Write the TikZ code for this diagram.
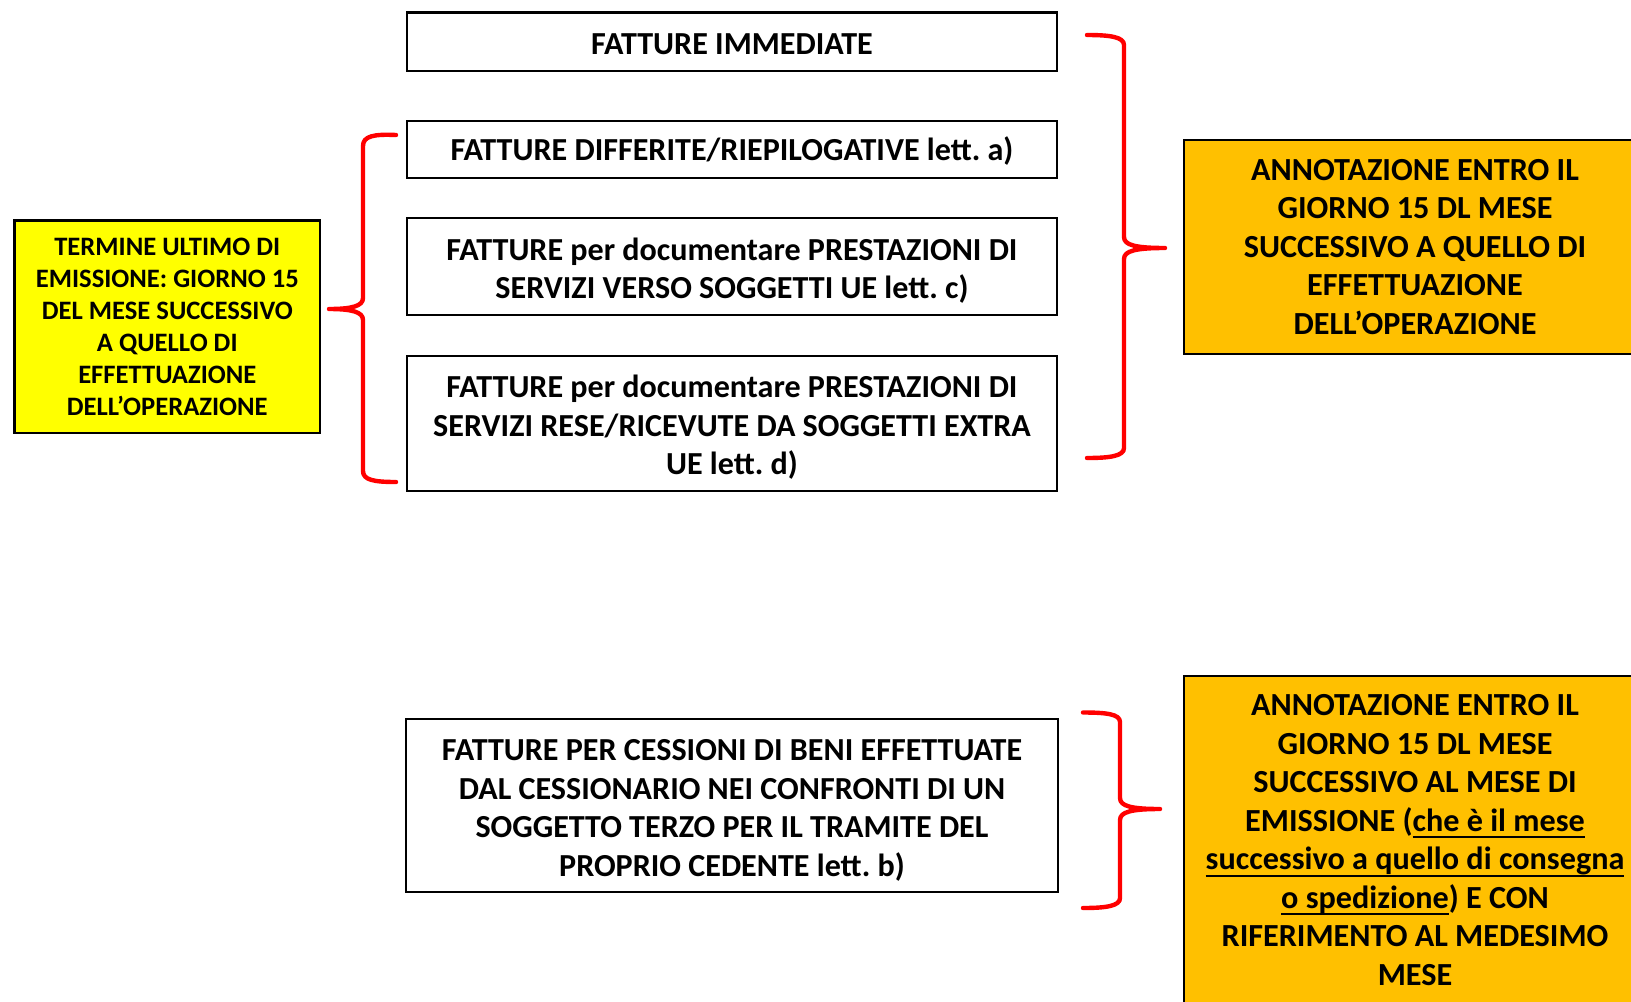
\documentclass[tikz,border=0pt]{standalone}
\usepackage{fontspec}
\setmainfont{Carlito}
\frenchspacing
\newsavebox\myulbox
\newcommand\myuline[1]{\sbox\myulbox{#1}\rlap{\rule[-0.22em]{\wd\myulbox}{0.07em}}\usebox\myulbox}
\newcommand\bxs{\rule{0pt}{0.95em}}
\newcommand\bxsb{\rule{0pt}{0.83em}}
\newcommand\bxe{\rule[-2.5pt]{0pt}{2.5pt}}
\definecolor{ylw}{HTML}{FFFF00}
\definecolor{org}{HTML}{FFC000}
\definecolor{bred}{HTML}{FF0000}
\begin{document}
\begin{tikzpicture}[x=0.5pt,y=-0.5pt,
  box/.style={draw=black,line width=1.3pt,fill=white,inner sep=0pt,align=center,
    font=\fontsize{16.05}{19.25}\selectfont\bfseries,minimum width=325pt},
  ybox/.style={draw=black,line width=1.3pt,fill=ylw,inner sep=0pt,align=center,
    font=\fontsize{13.3}{16}\selectfont\bfseries},
  obox/.style={draw=black,line width=1.3pt,fill=org,inner sep=0pt,align=center,
    font=\fontsize{16.1}{19.25}\selectfont\bfseries,minimum width=231pt},
  brace/.style={draw=bred,line width=2.2pt,line cap=round,line join=round}]
\useasboundingbox (0,0) rectangle (1631,1001);
\clip (0,0) rectangle (1631,1001);

\node[box,minimum height=29.25pt] (b1) at (732,41.75) {\bxs FATTURE IMMEDIATE\bxe};
\node[box,minimum height=28.5pt] (b2) at (732,149.5) {\bxsb FATTURE DIFFERITE/RIEPILOGATIVE lett. a)\bxe};
\node[box,minimum height=48.5pt] (b3) at (732,266.5) {\bxs FATTURE per documentare PRESTAZIONI DI\\SERVIZI VERSO SOGGETTI UE lett. c)\bxe};
\node[box,minimum height=67.5pt] (b4) at (732,423.5) {\bxs FATTURE per documentare PRESTAZIONI DI\\SERVIZI RESE/RICEVUTE DA SOGGETTI EXTRA\\UE lett. d)\bxe};
\node[box,minimum width=326pt,minimum height=86.5pt] (b5) at (732,805.5) {\bxs FATTURE PER CESSIONI DI BENI EFFETTUATE\\DAL CESSIONARIO NEI CONFRONTI DI UN\\SOGGETTO TERZO PER IL TRAMITE DEL\\PROPRIO CEDENTE lett. b)\bxe};

\node[ybox,minimum width=152.7pt,minimum height=106.25pt] (y) at (167.3,326.75) {TERMINE ULTIMO DI\\EMISSIONE: GIORNO 15\\DEL MESE SUCCESSIVO\\A QUELLO DI\\EFFETTUAZIONE\\DELL’OPERAZIONE};

\node[obox,minimum height=107pt] (o1) at (1415,247) {ANNOTAZIONE ENTRO IL\\GIORNO 15 DL MESE\\SUCCESSIVO A QUELLO DI\\EFFETTUAZIONE\\DELL’OPERAZIONE};
\node[obox,minimum height=164pt] (o2) at (1415,840) {ANNOTAZIONE ENTRO IL\\GIORNO 15 DL MESE\\SUCCESSIVO AL MESE DI\\EMISSIONE (\myuline{che è il mese}\\\myuline{successivo a quello di consegna}\\\myuline{o spedizione}) E CON\\RIFERIMENTO AL MEDESIMO\\MESE};

% left brace
\coordinate (lt) at (396,135);
\coordinate (lm) at (329,309);
\coordinate (lb) at (396,482);
\draw[brace] (lt) .. controls (374,134) and (363,136) .. (363,146) -- (363,298)
  .. controls (363,306) and (352,309) .. (lm)
  .. controls (352,309) and (363,312) .. (363,320) -- (363,471)
  .. controls (363,480) and (374,482) .. (lb);

% right brace 1
\coordinate (r1t) at (1087,35);
\coordinate (r1m) at (1165,248);
\coordinate (r1b) at (1087,458);
\draw[brace] (r1t) .. controls (1110,35) and (1124,37) .. (1124,45) -- (1124,237)
  .. controls (1124,245) and (1135,248) .. (r1m)
  .. controls (1135,248) and (1124,251) .. (1124,259) -- (1124,448)
  .. controls (1124,456) and (1110,458) .. (r1b);

% right brace 2
\coordinate (r2t) at (1083,712.5);
\coordinate (r2m) at (1160,809);
\coordinate (r2b) at (1083,908);
\draw[brace] (r2t) .. controls (1106,712.5) and (1120,714) .. (1120,722) -- (1120,798)
  .. controls (1120,806) and (1131,809) .. (r2m)
  .. controls (1131,809) and (1120,812) .. (1120,820) -- (1120,898)
  .. controls (1120,906) and (1106,908) .. (r2b);
\end{tikzpicture}
\end{document}
